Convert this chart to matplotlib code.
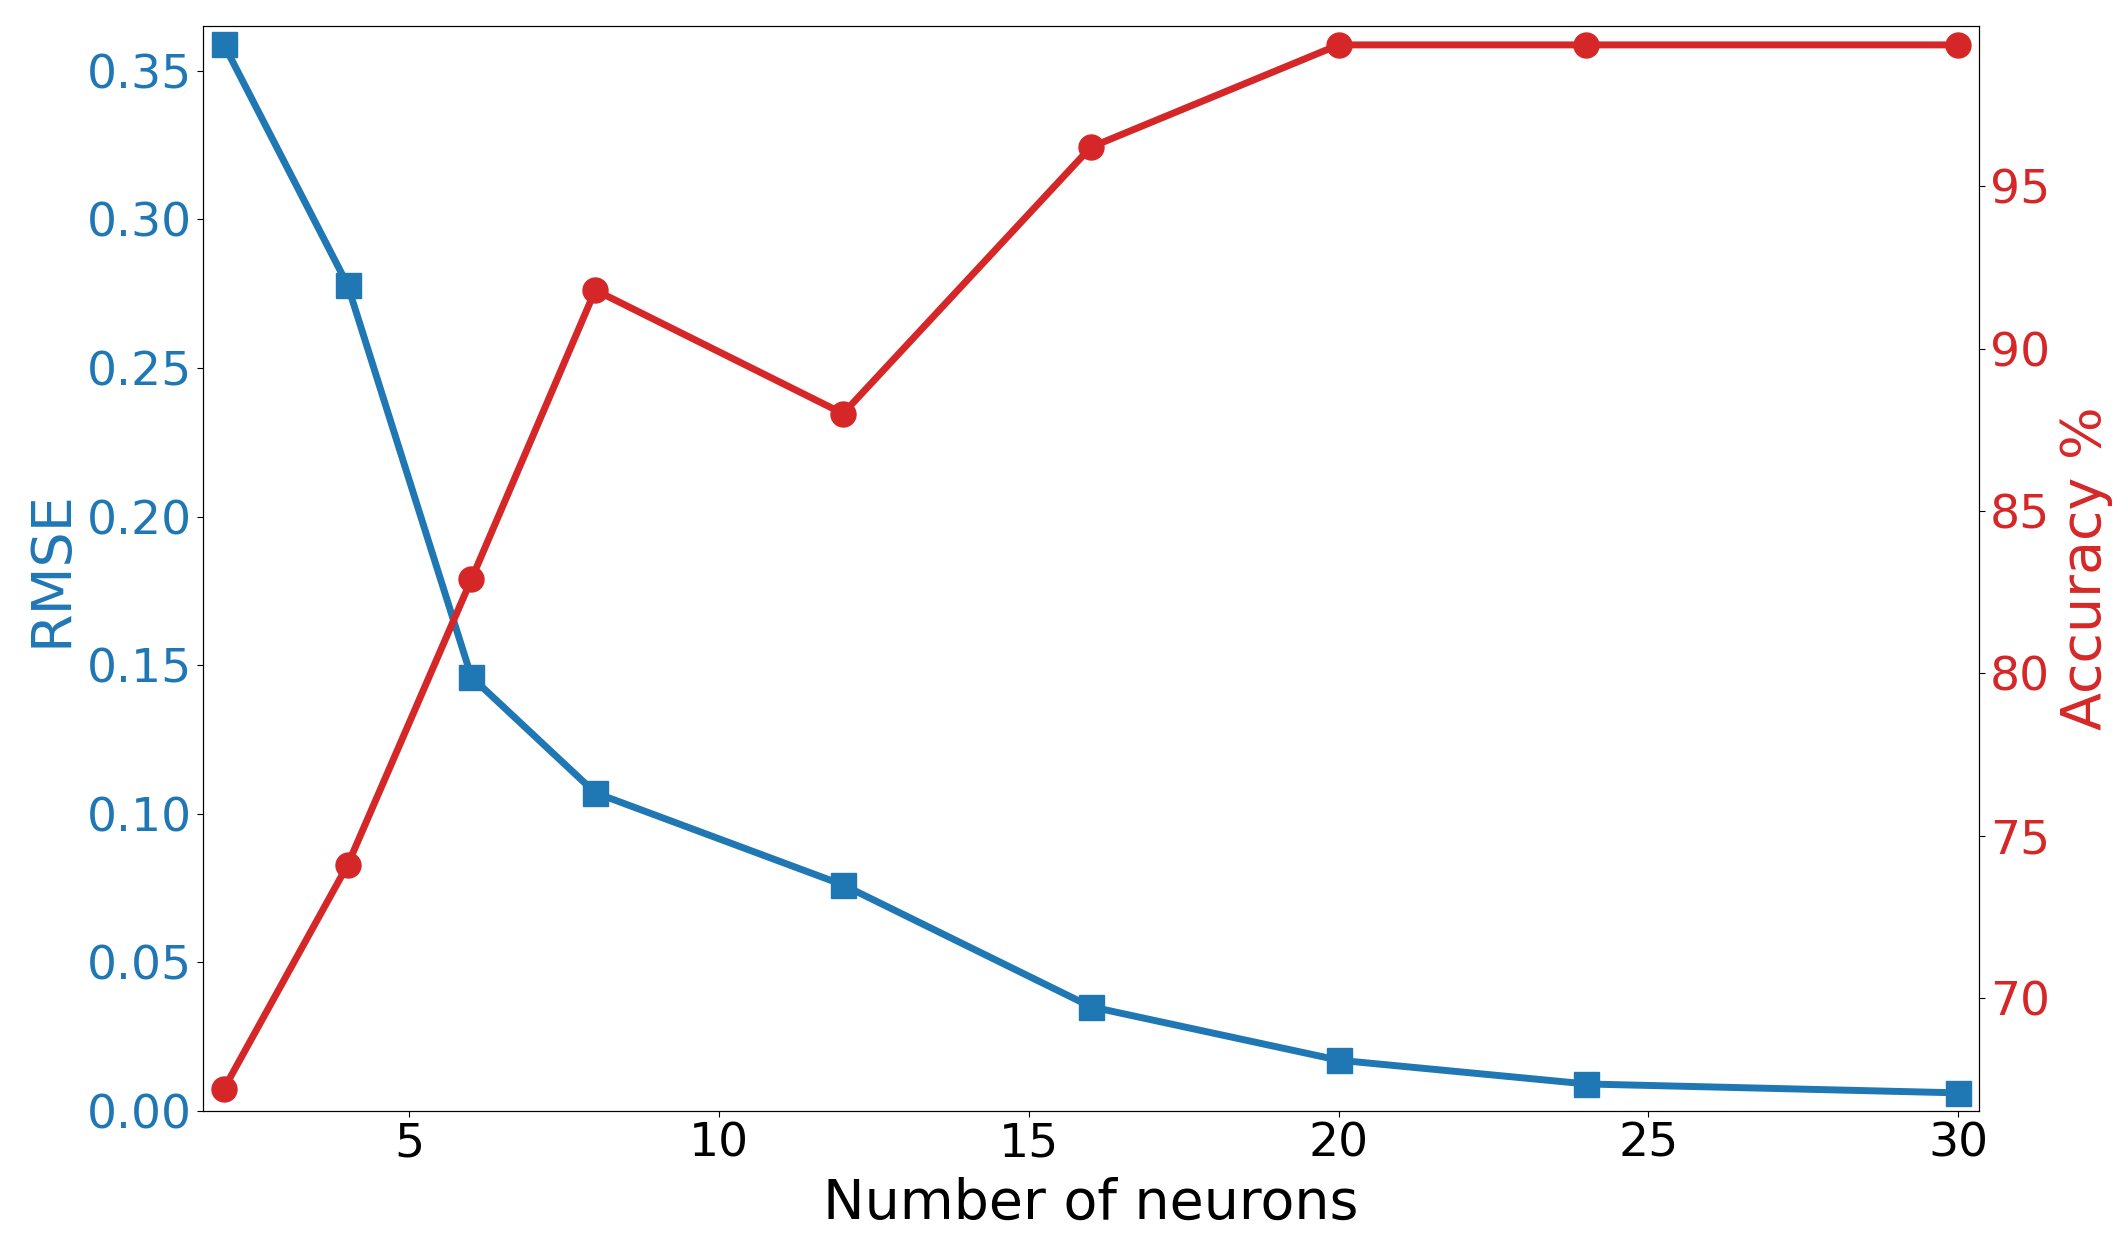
import matplotlib
matplotlib.use("Agg")
import matplotlib.pyplot as plt

# --- Data ---
neurons = [2, 4, 6, 8, 12, 16, 20, 24, 30]
rmse = [0.359, 0.278, 0.146, 0.107, 0.076, 0.035, 0.017, 0.009, 0.006]
accuracy = [67.2, 74.1, 82.9, 91.8, 88.0, 96.2, 99.35, 99.35, 99.35]

blue = "tab:blue"
red = "tab:red"

fig, ax1 = plt.subplots(figsize=(21.28, 12.41), dpi=100)
fig.subplots_adjust(left=0.0955, right=0.930, top=0.979, bottom=0.105)

# RMSE on left axis
ax1.plot(neurons, rmse, color=blue, marker='s', linewidth=5, markersize=18)
ax1.set_xlabel("Number of neurons", fontsize=40, labelpad=7)
ax1.set_ylabel("RMSE", fontsize=40, color=blue, labelpad=6)
ax1.tick_params(axis='y', labelcolor=blue, labelsize=34, length=4.5)
ax1.tick_params(axis='x', labelsize=34, length=4.5)
ax1.set_xlim(1.67, 30.34)
ax1.set_ylim(0, 0.3651)

# Accuracy on right axis
ax2 = ax1.twinx()
ax2.plot(neurons, accuracy, color=red, marker='o', linewidth=5, markersize=18)
ax2.set_ylabel("Accuracy %", fontsize=40, color=red, labelpad=6)
ax2.tick_params(axis='y', labelcolor=red, labelsize=34, length=4.5)
ax2.set_ylim(66.54, 99.93)
ax2.set_yticks([70, 75, 80, 85, 90, 95])

fig.savefig("out.png")
